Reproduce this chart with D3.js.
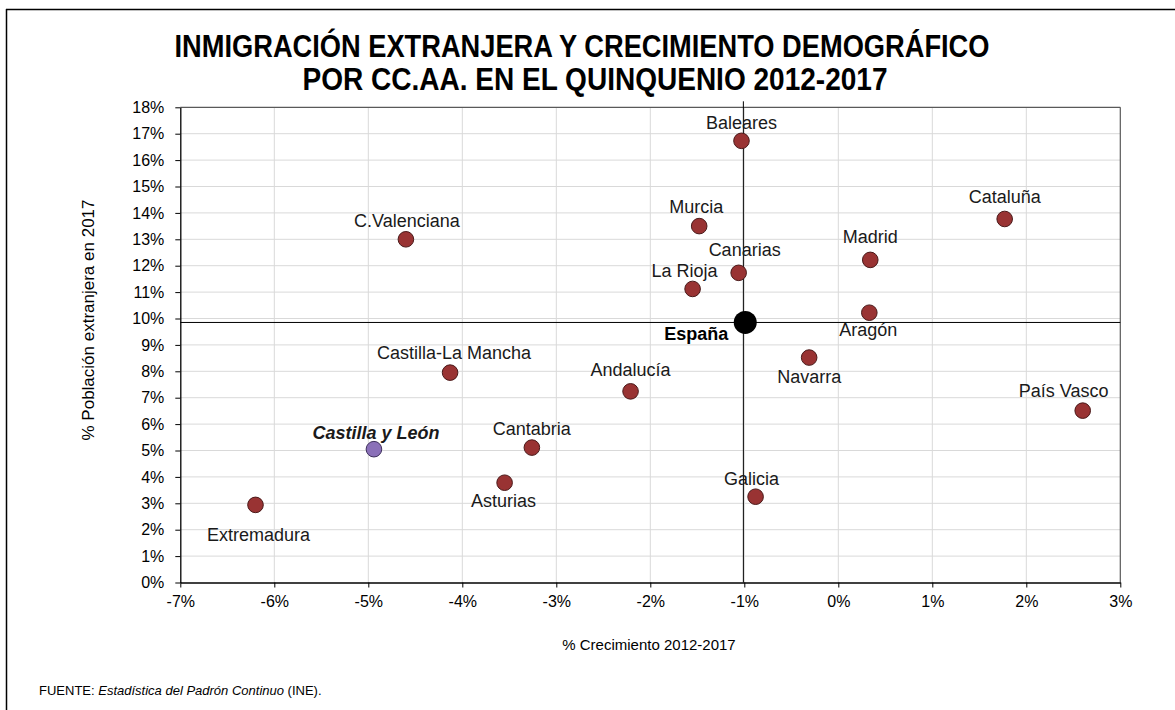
<!DOCTYPE html>
<html>
<head>
<meta charset="utf-8">
<script src="https://cdn.jsdelivr.net/npm/d3@7"></script>
<style>
  body { margin: 0; background: #fff; }
  svg { font-family: "Liberation Sans", Arial, sans-serif; }
</style>
</head>
<body>
<div id="chart-area"></div>
<script>
// regions, growth 2012-2017 (%) and foreign population share 2017 (%)
const regions = ["C.Valenciana", "Baleares", "Murcia", "Canarias", "La Rioja", "Madrid", "Aragón",
                 "Cataluña", "Castilla-La Mancha", "Castilla y León", "Extremadura", "Andalucía",
                 "Cantabria", "Asturias", "Galicia", "Navarra", "País Vasco"];
const growth = [-4.60, -1.03, -1.48, -1.06, -1.55, 0.34, 0.33,
                1.77, -4.13, -4.94, -6.20, -2.21,
                -3.26, -3.55, -0.88, -0.31, 2.60];
const foreign = [13.0, 16.73, 13.50, 11.73, 11.12, 12.22, 10.22,
                 13.77, 7.95, 5.05, 2.94, 7.24,
                 5.11, 3.78, 3.25, 8.52, 6.51];
const spain = {name: "España", growth: -0.99, foreign: 9.85};
const refLines = {x: -1.01, y: 9.85};
const xTicks = [-7, -6, -5, -4, -3, -2, -1, 0, 1, 2, 3];
const yTicks = d3.range(0, 19);

// label offsets (dx, dy) relative to the dot
const labelPos = {
    "C.Valenciana": [1, -12], "Baleares": [0, -12], "Murcia": [-3, -13], "Canarias": [6, -17],
    "La Rioja": [-8, -12], "Madrid": [0, -17], "Aragón": [-1, 23], "Cataluña": [0, -16],
    "Castilla-La Mancha": [4, -14], "Castilla y León": [2, -10], "Extremadura": [3, 36],
    "Andalucía": [0, -15], "Cantabria": [0, -13], "Asturias": [-1, 24], "Galicia": [-4, -12],
    "Navarra": [0, 25], "País Vasco": [-19, -14]
};

const width = 1175, height = 710;
const plot = {left: 180.3, right: 1120.3, top: 107.3, bottom: 582.5};

const svg = d3.select("#chart-area").append("svg")
    .attr("width", width).attr("height", height);

// outer frame (only top and left visible)
svg.append("line").attr("x1", 6).attr("x2", width).attr("y1", 9.5).attr("y2", 9.5)
    .attr("stroke", "#000").attr("stroke-width", 1.5);
svg.append("line").attr("x1", 6.5).attr("x2", 6.5).attr("y1", 9).attr("y2", height)
    .attr("stroke", "#000").attr("stroke-width", 1.5);

// title
const title = svg.append("text").attr("text-anchor", "middle")
    .attr("font-weight", "bold").attr("font-size", "31px").attr("fill", "#000");
title.append("tspan").attr("x", 582).attr("y", 57)
    .attr("textLength", 815).attr("lengthAdjust", "spacingAndGlyphs")
    .text("INMIGRACIÓN EXTRANJERA Y CRECIMIENTO DEMOGRÁFICO");
title.append("tspan").attr("x", 595).attr("y", 90)
    .attr("textLength", 585).attr("lengthAdjust", "spacingAndGlyphs")
    .text("POR CC.AA. EN EL QUINQUENIO 2012-2017");

const x = d3.scaleLinear().domain([-7, 3]).range([plot.left, plot.right]);
const y = d3.scaleLinear().domain([0, 18]).range([plot.bottom, plot.top]);

// grid
const grid = svg.append("g");
grid.selectAll(".gx").data(xTicks.slice(1, -1)).enter().append("line")
    .attr("x1", d => x(d)).attr("x2", d => x(d))
    .attr("y1", plot.top).attr("y2", plot.bottom)
    .attr("stroke", "#d9d9d9").attr("stroke-width", 1);
grid.selectAll(".gy").data(yTicks.slice(1, -1)).enter().append("line")
    .attr("x1", plot.left).attr("x2", plot.right)
    .attr("y1", d => y(d)).attr("y2", d => y(d))
    .attr("stroke", "#d9d9d9").attr("stroke-width", 1);

// plot border top/right
svg.append("line").attr("x1", plot.left).attr("x2", plot.right).attr("y1", plot.top).attr("y2", plot.top)
    .attr("stroke", "#595959").attr("stroke-width", 1.2);
svg.append("line").attr("x1", plot.right).attr("x2", plot.right).attr("y1", plot.top).attr("y2", plot.bottom)
    .attr("stroke", "#595959").attr("stroke-width", 1.2);

// axes
const xAxis = d3.axisBottom(x).tickValues(xTicks).tickSize(5).tickSizeOuter(0)
    .tickFormat(d => d + "%");
const gx = svg.append("g").attr("transform", "translate(0," + plot.bottom + ")").call(xAxis);
const yAxis = d3.axisLeft(y).tickValues(yTicks).tickSize(5).tickSizeOuter(0)
    .tickFormat(d => d + "%");
const gy = svg.append("g").attr("transform", "translate(" + plot.left + ",0)").call(yAxis);
[gx, gy].forEach(g => {
    g.select(".domain").attr("stroke", "#000").attr("stroke-width", 1.3);
    g.selectAll(".tick line").attr("stroke", "#000");
    g.selectAll("text").attr("font-size", "16px").attr("fill", "#000")
        .attr("font-family", "Liberation Sans, Arial, sans-serif");
});
gx.selectAll("text").attr("dy", "1.05em");
gy.selectAll("text").attr("dx", "-8px");

// reference lines through Spain
svg.append("line").attr("x1", plot.left).attr("x2", plot.right)
    .attr("y1", y(refLines.y)).attr("y2", y(refLines.y))
    .attr("stroke", "#000").attr("stroke-width", 1);
svg.append("line").attr("x1", x(refLines.x)).attr("x2", x(refLines.x))
    .attr("y1", plot.top - 6).attr("y2", plot.bottom)
    .attr("stroke", "#000").attr("stroke-width", 1);

// axis titles
svg.append("text").attr("x", 649).attr("y", 650).attr("text-anchor", "middle")
    .attr("font-size", "15px").text("% Crecimiento 2012-2017");
svg.append("text").attr("transform", "translate(94,320) rotate(-90)").attr("text-anchor", "middle")
    .attr("font-size", "17px").text("% Población extranjera en 2017");

// points
const pts = regions.map((r, i) => ({name: r, growth: growth[i], foreign: foreign[i]}));

svg.append("g").selectAll("circle").data(pts).enter().append("circle")
    .attr("cx", d => x(d.growth)).attr("cy", d => y(d.foreign)).attr("r", 7.8)
    .attr("fill", d => d.name === "Castilla y León" ? "#8a70b8" : "#993333")
    .attr("stroke", d => d.name === "Castilla y León" ? "#3d2f5c" : "#4a1a1a")
    .attr("stroke-width", 1);

svg.append("g").selectAll("text").data(pts).enter().append("text")
    .attr("x", d => x(d.growth) + labelPos[d.name][0])
    .attr("y", d => y(d.foreign) + labelPos[d.name][1])
    .attr("text-anchor", "middle")
    .attr("font-size", "18px")
    .attr("font-weight", d => d.name === "Castilla y León" ? "bold" : "normal")
    .attr("font-style", d => d.name === "Castilla y León" ? "italic" : "normal")
    .attr("fill", "#1a1a1a")
    .text(d => d.name);

// Spain
svg.append("circle").attr("cx", x(spain.growth)).attr("cy", y(spain.foreign)).attr("r", 11.5)
    .attr("fill", "#000");
svg.append("text").attr("x", x(spain.growth) - 17).attr("y", y(spain.foreign) + 18)
    .attr("text-anchor", "end").attr("font-size", "18px").attr("font-weight", "bold")
    .text(spain.name);

// source
const src = svg.append("text").attr("x", 39).attr("y", 695).attr("font-size", "13px").attr("fill", "#000");
src.append("tspan").text("FUENTE: ");
src.append("tspan").attr("font-style", "italic").text("Estadística del Padrón Continuo");
src.append("tspan").text(" (INE).");
</script>
</body>
</html>
